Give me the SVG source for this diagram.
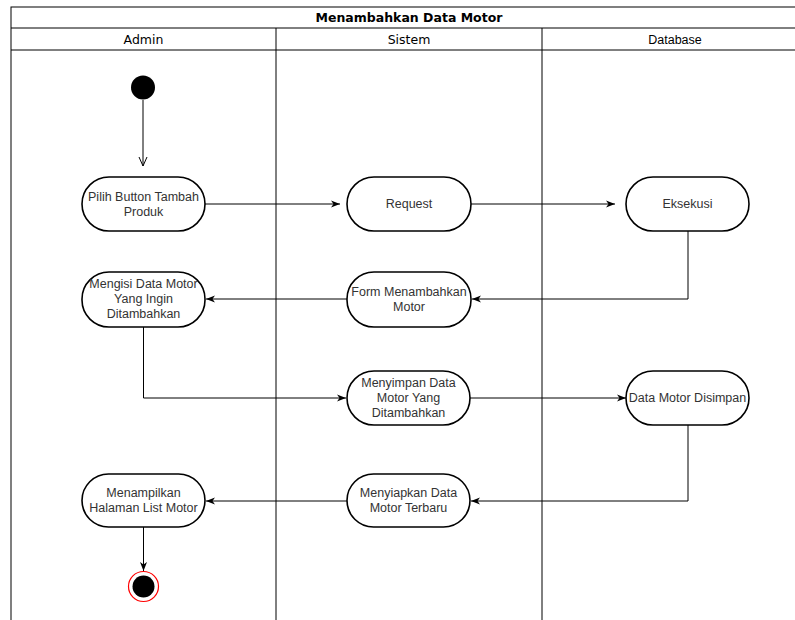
<svg xmlns="http://www.w3.org/2000/svg" width="795" height="620" viewBox="0 0 795 620">
<style>
.frame{fill:none;stroke:#000;stroke-width:1}
.node{fill:#fff;stroke:#000;stroke-width:1.6}
.edge{fill:none;stroke:#000;stroke-width:1}
.t{font-family:"Liberation Sans",Arial,sans-serif;font-size:12.5px;fill:#333;text-anchor:middle}
.h{font-family:"DejaVu Sans",Verdana,sans-serif;font-size:12.5px;fill:#000;text-anchor:middle}
</style>
<defs>
<marker id="arr" markerUnits="userSpaceOnUse" markerWidth="10" markerHeight="8" refX="9" refY="4" orient="auto">
<path d="M0,0.5 L9,4 L0,7.5 L2.5,4 Z" fill="#000"/>
</marker>
</defs>
<rect width="795" height="620" fill="#fff"/>
<g id="frame">
<rect class="frame" x="11" y="7" width="796" height="620"/>
<line class="frame" x1="11" y1="28" x2="807" y2="28"/>
<line class="frame" x1="11" y1="50" x2="807" y2="50"/>
<line class="frame" x1="276" y1="28" x2="276" y2="620"/>
<line class="frame" x1="542" y1="28" x2="542" y2="620"/>
<text class="h" x="409" y="22" font-weight="bold">Menambahkan Data Motor</text>
<text class="h" x="143.5" y="43.5">Admin</text>
<text class="h" x="409" y="43.5">Sistem</text>
<text class="t" x="675" y="43.5" style="fill:#000">Database</text>
</g>
<g id="connectors">
<path class="edge" d="M143,100 V166"/>
<path class="edge" d="M139,157 L143,166 L147,157"/>
<path class="edge" d="M205,204 H340" marker-end="url(#arr)"/>
<path class="edge" d="M471,204 H615" marker-end="url(#arr)"/>
<path class="edge" d="M688,231 V299 H472" marker-end="url(#arr)"/>
<path class="edge" d="M347,299 H206" marker-end="url(#arr)"/>
<path class="edge" d="M143.5,327 V398 H346" marker-end="url(#arr)"/>
<path class="edge" d="M470,398 H626" marker-end="url(#arr)"/>
<path class="edge" d="M688,425 V501 H471" marker-end="url(#arr)"/>
<path class="edge" d="M347,501 H206" marker-end="url(#arr)"/>
<path class="edge" d="M143.5,527 V571" marker-end="url(#arr)"/>
</g>
<g id="start">
<circle cx="143" cy="87.5" r="12" fill="#000"/>
</g>
<g id="pilih">
<rect class="node" x="82" y="177" width="123" height="54" rx="27" ry="27"/>
<text class="t" x="143.5" y="200.5">Pilih Button Tambah</text>
<text class="t" x="143.5" y="215.5">Produk</text>
</g>
<g id="request">
<rect class="node" x="347" y="177" width="124" height="54" rx="27" ry="27"/>
<text class="t" x="409" y="208">Request</text>
</g>
<g id="eksekusi">
<rect class="node" x="626" y="177" width="123" height="54" rx="27" ry="27"/>
<text class="t" x="687.5" y="208">Eksekusi</text>
</g>
<g id="form">
<rect class="node" x="347" y="272" width="124" height="55" rx="27" ry="27"/>
<text class="t" x="409" y="296">Form Menambahkan</text>
<text class="t" x="409" y="311">Motor</text>
</g>
<g id="mengisi">
<rect class="node" x="82" y="272" width="123" height="55" rx="27" ry="27"/>
<text class="t" x="143.5" y="288">Mengisi Data Motor</text>
<text class="t" x="143.5" y="303">Yang Ingin</text>
<text class="t" x="143.5" y="318">Ditambahkan</text>
</g>
<g id="menyimpan">
<rect class="node" x="347" y="371" width="123" height="54" rx="27" ry="27"/>
<text class="t" x="408.5" y="387">Menyimpan Data</text>
<text class="t" x="408.5" y="402">Motor Yang</text>
<text class="t" x="408.5" y="417">Ditambahkan</text>
</g>
<g id="disimpan">
<rect class="node" x="626" y="371" width="123" height="54" rx="27" ry="27"/>
<text class="t" x="687.5" y="402">Data Motor Disimpan</text>
</g>
<g id="menyiapkan">
<rect class="node" x="347" y="474" width="123" height="53" rx="26.5" ry="26.5"/>
<text class="t" x="408.5" y="497">Menyiapkan Data</text>
<text class="t" x="408.5" y="512">Motor Terbaru</text>
</g>
<g id="menampilkan">
<rect class="node" x="82" y="474" width="123" height="53" rx="26.5" ry="26.5"/>
<text class="t" x="143.5" y="497">Menampilkan</text>
<text class="t" x="143.5" y="512">Halaman List Motor</text>
</g>
<g id="end">
<circle cx="143.5" cy="586.5" r="15" fill="#fff" stroke="#ff0000" stroke-width="1.2"/>
<circle cx="143.5" cy="586.5" r="11" fill="#000"/>
</g>
</svg>
